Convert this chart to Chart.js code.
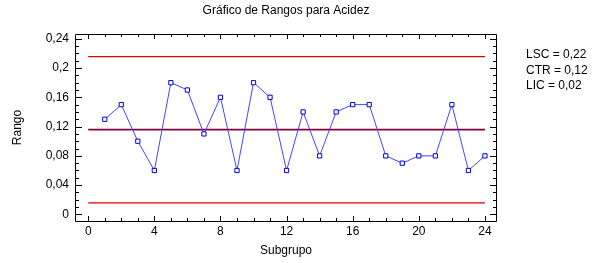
<!DOCTYPE html>
<html>
<head>
<meta charset="utf-8">
<script src="https://cdn.jsdelivr.net/npm/chart.js@4"></script>
<style>
  html, body { margin: 0; padding: 0; background: #ffffff; }
  #wrap { width: 600px; height: 263px; }
</style>
</head>
<body>
<div id="wrap"><canvas id="c" width="600" height="263"></canvas></div>
<script>
// ---- data ----
const chartTitle = 'Gráfico de Rangos para Acidez';
const xAxisTitle = 'Subgrupo';
const yAxisTitle = 'Rango';
const subgroups = [1,2,3,4,5,6,7,8,9,10,11,12,13,14,15,16,17,18,19,20,21,22,23,24];
const ranges = [0.13,0.15,0.10,0.06,0.18,0.17,0.11,0.16,0.06,0.18,0.16,0.06,
                0.14,0.08,0.14,0.15,0.15,0.08,0.07,0.08,0.08,0.15,0.06,0.08];
const limitNames = ['LSC', 'CTR', 'LIC'];
const limitValues = [0.2155, 0.1158, 0.0158];
const limitTexts = ['LSC = 0,22', 'CTR = 0,12', 'LIC = 0,02'];
const limitSpan = [0, 24];
const xTickValues = [0, 4, 8, 12, 16, 20, 24];
const xTickLabels = ['0', '4', '8', '12', '16', '20', '24'];
const yTickValues = [0, 0.04, 0.08, 0.12, 0.16, 0.2, 0.24];
const yTickLabels = ['0', '0,04', '0,08', '0,12', '0,16', '0,2', '0,24'];

const FONT = "'Liberation Sans', Arial, sans-serif";
const limitColors = ['#e00000', '#800040', '#e00000'];

const frame = {
  id: 'frame',
  afterDatasetsDraw(chart) {
    const ctx = chart.ctx;
    const a = chart.chartArea;
    const xs = chart.scales.x, ys = chart.scales.y;
    ctx.save();
    ctx.strokeStyle = '#000000';
    ctx.lineWidth = 1;
    ctx.beginPath();
    ctx.rect(Math.round(a.left) + 0.5, Math.round(a.top) + 0.5,
             Math.round(a.right - a.left) - 1, Math.round(a.bottom - a.top));
    ctx.stroke();
    ctx.beginPath();
    for (let i = 0; i <= 24; i++) {
      const px = Math.round(xs.getPixelForValue(i)) + 0.5;
      const len = (i % 4 === 0) ? 5 : 3;
      ctx.moveTo(px, a.bottom); ctx.lineTo(px, a.bottom - len);
      ctx.moveTo(px, a.top); ctx.lineTo(px, a.top + len);
    }
    for (let i = 0; i <= 24; i++) {
      const py = Math.round(ys.getPixelForValue(i / 100)) + 0.5;
      const len = (i % 4 === 0) ? 7 : 4;
      ctx.moveTo(a.left, py); ctx.lineTo(a.left + len, py);
      ctx.moveTo(a.right, py); ctx.lineTo(a.right - len, py);
    }
    ctx.stroke();
    // limit labels at right
    ctx.fillStyle = '#000000';
    ctx.font = '12px ' + FONT;
    ctx.textAlign = 'left';
    ctx.textBaseline = 'middle';
    limitTexts.forEach((t, k) => ctx.fillText(t, 526, 55 + k * 15.5));
    ctx.restore();
  }
};

const datasets = [{
  label: 'Rango',
  data: subgroups.map((s, i) => ({x: s, y: ranges[i]})),
  borderColor: '#4444ff',
  borderWidth: 1,
  pointStyle: 'rect',
  pointRadius: 3,
  pointBorderColor: '#0000dd',
  pointBackgroundColor: '#ffffff',
  pointBorderWidth: 1,
  tension: 0,
  order: 0
}];
limitNames.forEach((n, k) => {
  datasets.push({
    label: n,
    data: limitSpan.map(x => ({x: x, y: limitValues[k]})),
    borderColor: limitColors[k],
    borderWidth: k === 1 ? 1.6 : 1.3,
    pointRadius: 0,
    order: 1
  });
});

new Chart(document.getElementById('c'), {
  type: 'line',
  data: { datasets },
  options: {
    responsive: false,
    animation: false,
    devicePixelRatio: 1,
    layout: { padding: { left: 0, right: 103, top: 0, bottom: 0 } },
    plugins: {
      legend: { display: false },
      tooltip: { enabled: false },
      title: {
        display: true,
        text: chartTitle,
        fullSize: false,
        color: '#000000',
        font: { family: FONT, size: 12, weight: 'normal' },
        padding: { top: 3, bottom: 16.6 }
      }
    },
    scales: {
      x: {
        type: 'linear',
        min: -0.8, max: 24.73,
        afterFit(s) { s.height = 42; },
        afterBuildTicks(s) { s.ticks = xTickValues.map(v => ({value: v})); },
        ticks: {
          includeBounds: false,
          padding: 3.5,
          color: '#000000',
          font: { family: FONT, size: 12 },
          maxRotation: 0,
          callback: (v) => { const i = xTickValues.indexOf(v); return i >= 0 ? xTickLabels[i] : ''; }
        },
        grid: { display: false, drawTicks: false },
        border: { display: false },
        title: {
          display: true, text: xAxisTitle, color: '#000000',
          font: { family: FONT, size: 12 },
          padding: { top: 0, bottom: 5.5 }
        }
      },
      y: {
        type: 'linear',
        min: -0.009, max: 0.2465,
        afterFit(s) { s.width = 75; },
        afterBuildTicks(s) { s.ticks = yTickValues.map(v => ({value: v})); },
        ticks: {
          includeBounds: false,
          padding: 6,
          color: '#000000',
          font: { family: FONT, size: 12 },
          callback: (v) => { const i = yTickValues.findIndex(t => Math.abs(t - v) < 1e-9); return i >= 0 ? yTickLabels[i] : ''; }
        },
        grid: { display: false, drawTicks: false },
        border: { display: false },
        title: {
          display: true, text: yAxisTitle, color: '#000000',
          font: { family: FONT, size: 12 },
          padding: { top: 10.8, bottom: 0 }
        }
      }
    }
  },
  plugins: [frame]
});
</script>
</body>
</html>
